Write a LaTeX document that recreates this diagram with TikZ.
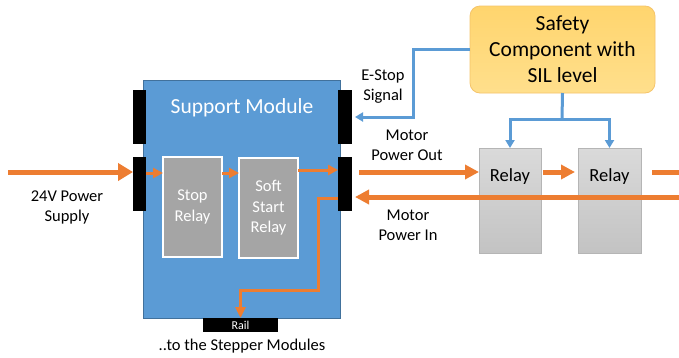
\documentclass[tikz,border=0pt]{standalone}
\usepackage{fontspec}
\setmainfont{Carlito}
\usetikzlibrary{arrows.meta}
\definecolor{mblue}{HTML}{5B9BD5}
\definecolor{mblueb}{HTML}{41719C}
\definecolor{morange}{HTML}{ED7D31}
\definecolor{mgray}{HTML}{A5A5A5}
\definecolor{rtop}{HTML}{DADADA}
\definecolor{rbot}{HTML}{C3C3C3}
\definecolor{rbord}{HTML}{B5B5B5}
\definecolor{ytop}{HTML}{FFD56E}
\definecolor{ybot}{HTML}{FFDF8C}
\definecolor{ybord}{HTML}{F5C46A}
\begin{document}
\begin{tikzpicture}[x=1pt,y=-1pt,
  box/.style={anchor=north west,inner sep=0pt,outer sep=0pt},
  blk/.style={box,fill=black,draw=none},
  lbl/.style={align=center,font=\fontsize{16.5}{20}\selectfont,inner sep=0pt},
  graybox/.style={box,fill=mgray,draw=white,line width=1.5pt},
  relaybox/.style={box,top color=rtop,bottom color=rbot,draw=rbord,line width=0.6pt},
  bigarrow/.style={draw=morange,line width=5pt,-{Triangle[length=15pt,width=17pt]}},
  medarrow/.style={draw=morange,line width=5pt,-{Triangle[length=14pt,width=14pt]}},
  smallarrow/.style={draw=morange,line width=3pt,-{Triangle[length=10pt,width=10pt]}},
  orangeline/.style={draw=morange,line width=5pt},
  bluearrow/.style={draw=mblue,line width=3pt,-{Triangle[length=8pt,width=9pt]}},
  blueline/.style={draw=mblue,line width=3pt},
]
\useasboundingbox (0,0) rectangle (679,357);
\fill[white] (0,0) rectangle (679,357);

% support module
\node[box,fill=mblue,draw=mblueb,line width=0.6pt,minimum width=197pt,minimum height=238pt] (sm) at (143,80) {};
\node[font=\fontsize{21.5}{26}\selectfont,text=white,inner sep=0pt] (smt) at (242,108) {Support Module};

% connectors
\node[blk,minimum width=13pt,minimum height=54pt] (lt) at (133,90) {};
\node[blk,minimum width=13pt,minimum height=54pt] (lb) at (133,157) {};
\node[blk,minimum width=14pt,minimum height=54pt] (rt) at (338,90) {};
\node[blk,minimum width=14pt,minimum height=54pt] (rb) at (338,157) {};
\node[blk,minimum width=75pt,minimum height=14pt] (rail) at (203,318) {};
\node[text=white,font=\fontsize{12}{13}\selectfont,inner sep=0pt] (railt) at (rail.center) {Rail};

% inner relays
\node[graybox,minimum width=59pt,minimum height=100pt] (stop) at (163,157) {};
\node[text=white,align=center,font=\fontsize{16.5}{20.5}\selectfont,inner sep=0pt] (stopt) at (stop.center) {Stop\\Relay};
\node[graybox,minimum width=59pt,minimum height=100pt] (soft) at (239,158) {};
\node[text=white,align=center,font=\fontsize{16.5}{20.5}\selectfont,inner sep=0pt] (softt) at (soft.center) {Soft\\Start\\Relay};

% outer relays
\node[relaybox,minimum width=62pt,minimum height=105pt] (r1) at (479,148) {};
\node[font=\fontsize{18.5}{22}\selectfont,inner sep=0pt] (r1t) at (510,177) {Relay};
\node[relaybox,minimum width=63pt,minimum height=105pt] (r2) at (578,148) {};
\node[font=\fontsize{18.5}{22}\selectfont,inner sep=0pt] (r2t) at (609.5,177) {Relay};

% safety component
\node[box,rounded corners=10pt,top color=ytop,bottom color=ybot,draw=ybord,line width=0.8pt,minimum width=185pt,minimum height=87pt] (saf) at (470,6) {};
\node[align=center,font=\fontsize{21.5}{26}\selectfont,inner sep=0pt] (saft) at (saf.center) {Safety\\Component with\\SIL level};

% helper coordinates
\coordinate (y170) at (0,170);
\coordinate (y172) at (0,172);
\coordinate (y173) at (0,173);
\coordinate (y197) at (0,197);
\coordinate (y198) at (0,198);
\coordinate (inL) at (8,172);
\coordinate (outR) at (679,172);
\coordinate (inR) at (679,197);
\coordinate (turn1) at (318,290);
\coordinate (es) at (413,117);
\coordinate (split) at (562,119);

% orange power arrows
\draw[bigarrow] (inL) -- (inL -| lb.west);
\draw[smallarrow] (lb.east |- y173) -- (stop.west |- y173);
\draw[smallarrow] (stop.east |- y173) -- (soft.west |- y173);
\draw[smallarrow] (soft.east |- y170) -- (rb.west |- y170);
\draw[draw=morange,line width=3pt,-{Triangle[length=11pt,width=10pt]}] (rb.west |- y198) -| (turn1) -| (rail.north);
\draw[medarrow,shorten <=7pt] (rb.east |- y172) -- (r1.west |- y172);
\draw[medarrow,shorten <=2pt,shorten >=3pt] (r1.east |- y172) -- (r2.west |- y172);
\draw[orangeline,shorten <=11pt] (r2.east |- y172) -- (outR);
\draw[medarrow,shorten >=3pt] (inR) -- (rb.east |- y197);

% blue signal lines
\draw[bluearrow,shorten >=3pt] (saf.west) -| (es) -- (rt.east |- es);
\draw[blueline] (saf.south) -- (split);
\draw[bluearrow] (split) -| (r1.north);
\draw[bluearrow] (split) -| (r2.north);

% labels
\node[lbl] (l24) at (67,207) {24V Power\\Supply};
\node[lbl] (lest) at (383,87) {E-Stop\\Signal};
\node[lbl] (lmpo) at (407,145) {Motor\\Power Out};
\node[lbl] (lmpi) at (408,225) {Motor\\Power In};
\node[lbl] (lstep) at (242,346) {..to the Stepper Modules};
\end{tikzpicture}
\end{document}
